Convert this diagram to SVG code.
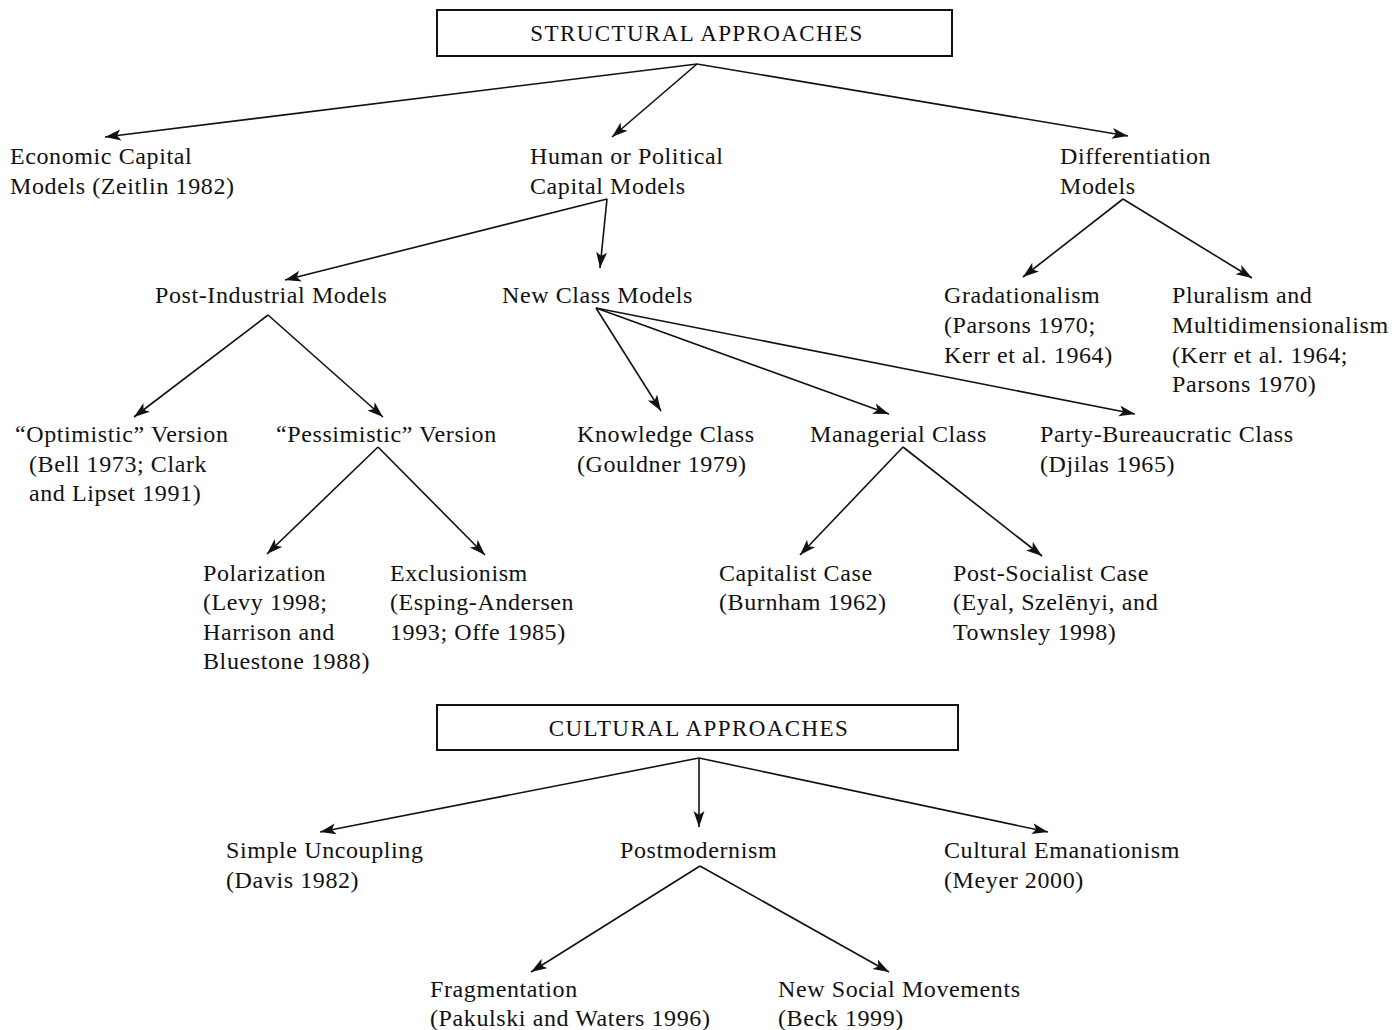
<svg xmlns="http://www.w3.org/2000/svg" width="1392" height="1030" viewBox="0 0 1392 1030">
<style>
text{font-family:"Liberation Serif","Times New Roman",serif;font-size:24px;fill:#111;letter-spacing:0.6px}
.hdr{font-size:23px;letter-spacing:1.4px;text-anchor:middle}
.box{fill:#fff;stroke:#111;stroke-width:2}
.c line{stroke:#111;stroke-width:1.6;marker-end:url(#ah)}
</style>
<defs>
<marker id="ah" markerUnits="userSpaceOnUse" markerWidth="18" markerHeight="12" refX="16" refY="5.5" orient="auto">
<path d="M0,0 L16,5.5 L0,11 L4,5.5 Z" fill="#111"/>
</marker>
</defs>
<rect width="1392" height="1030" fill="#fff"/>
<g class="c" id="connectors">
<line x1="697" y1="64" x2="105" y2="137"/>
<line x1="697" y1="64" x2="612" y2="137"/>
<line x1="697" y1="64" x2="1128" y2="136"/>
<line x1="607" y1="199" x2="285" y2="280"/>
<line x1="607" y1="199" x2="600" y2="268"/>
<line x1="1123" y1="199" x2="1023" y2="277"/>
<line x1="1123" y1="199" x2="1252" y2="278"/>
<line x1="268" y1="315" x2="134" y2="417"/>
<line x1="268" y1="315" x2="383" y2="417"/>
<line x1="596" y1="308" x2="661" y2="411"/>
<line x1="596" y1="308" x2="889" y2="414"/>
<line x1="596" y1="308" x2="1135" y2="414"/>
<line x1="378" y1="447" x2="267" y2="554"/>
<line x1="378" y1="447" x2="485" y2="555"/>
<line x1="903" y1="447" x2="800" y2="555"/>
<line x1="903" y1="447" x2="1042" y2="556"/>
<line x1="699" y1="758" x2="320" y2="832"/>
<line x1="699" y1="758" x2="699" y2="827"/>
<line x1="699" y1="758" x2="1048" y2="832"/>
<line x1="700" y1="866" x2="531" y2="972"/>
<line x1="700" y1="866" x2="889" y2="972"/>
</g>
<g id="structural"><rect class="box" x="437" y="10" width="515" height="46"/><text class="hdr" x="697" y="41">STRUCTURAL APPROACHES</text></g>
<g id="economic"><text x="10" y="164">Economic Capital</text><text x="10" y="194">Models (Zeitlin 1982)</text></g>
<g id="human"><text x="530" y="164">Human or Political</text><text x="530" y="194">Capital Models</text></g>
<g id="differentiation"><text x="1060" y="164">Differentiation</text><text x="1060" y="194">Models</text></g>
<g id="postindustrial"><text x="155" y="303">Post-Industrial Models</text></g>
<g id="newclass"><text x="502" y="303">New Class Models</text></g>
<g id="gradationalism"><text x="944" y="303">Gradationalism</text><text x="944" y="333">(Parsons 1970;</text><text x="944" y="363">Kerr et al. 1964)</text></g>
<g id="pluralism"><text x="1172" y="303">Pluralism and</text><text x="1172" y="333">Multidimensionalism</text><text x="1172" y="363">(Kerr et al. 1964;</text><text x="1172" y="392">Parsons 1970)</text></g>
<g id="optimistic"><text x="15" y="442">“Optimistic” Version</text><text x="29" y="472">(Bell 1973; Clark</text><text x="29" y="501">and Lipset 1991)</text></g>
<g id="pessimistic"><text x="276" y="442">“Pessimistic” Version</text></g>
<g id="knowledge"><text x="577" y="442">Knowledge Class</text><text x="577" y="472">(Gouldner 1979)</text></g>
<g id="managerial"><text x="810" y="442">Managerial Class</text></g>
<g id="party"><text x="1040" y="442">Party-Bureaucratic Class</text><text x="1040" y="472">(Djilas 1965)</text></g>
<g id="polarization"><text x="203" y="581">Polarization</text><text x="203" y="610">(Levy 1998;</text><text x="203" y="640">Harrison and</text><text x="203" y="669">Bluestone 1988)</text></g>
<g id="exclusionism"><text x="390" y="581">Exclusionism</text><text x="390" y="610">(Esping-Andersen</text><text x="390" y="640">1993; Offe 1985)</text></g>
<g id="capitalist"><text x="719" y="581">Capitalist Case</text><text x="719" y="610">(Burnham 1962)</text></g>
<g id="postsocialist"><text x="953" y="581">Post-Socialist Case</text><text x="953" y="610">(Eyal, Szelēnyi, and</text><text x="953" y="640">Townsley 1998)</text></g>
<g id="cultural"><rect class="box" x="437" y="705" width="521" height="45"/><text class="hdr" x="699" y="736">CULTURAL APPROACHES</text></g>
<g id="simple"><text x="226" y="858">Simple Uncoupling</text><text x="226" y="888">(Davis 1982)</text></g>
<g id="postmodernism"><text x="620" y="858">Postmodernism</text></g>
<g id="emanationism"><text x="944" y="858">Cultural Emanationism</text><text x="944" y="888">(Meyer 2000)</text></g>
<g id="fragmentation"><text x="430" y="997">Fragmentation</text><text x="430" y="1026">(Pakulski and Waters 1996)</text></g>
<g id="newsocial"><text x="778" y="997">New Social Movements</text><text x="778" y="1026">(Beck 1999)</text></g>
</svg>
